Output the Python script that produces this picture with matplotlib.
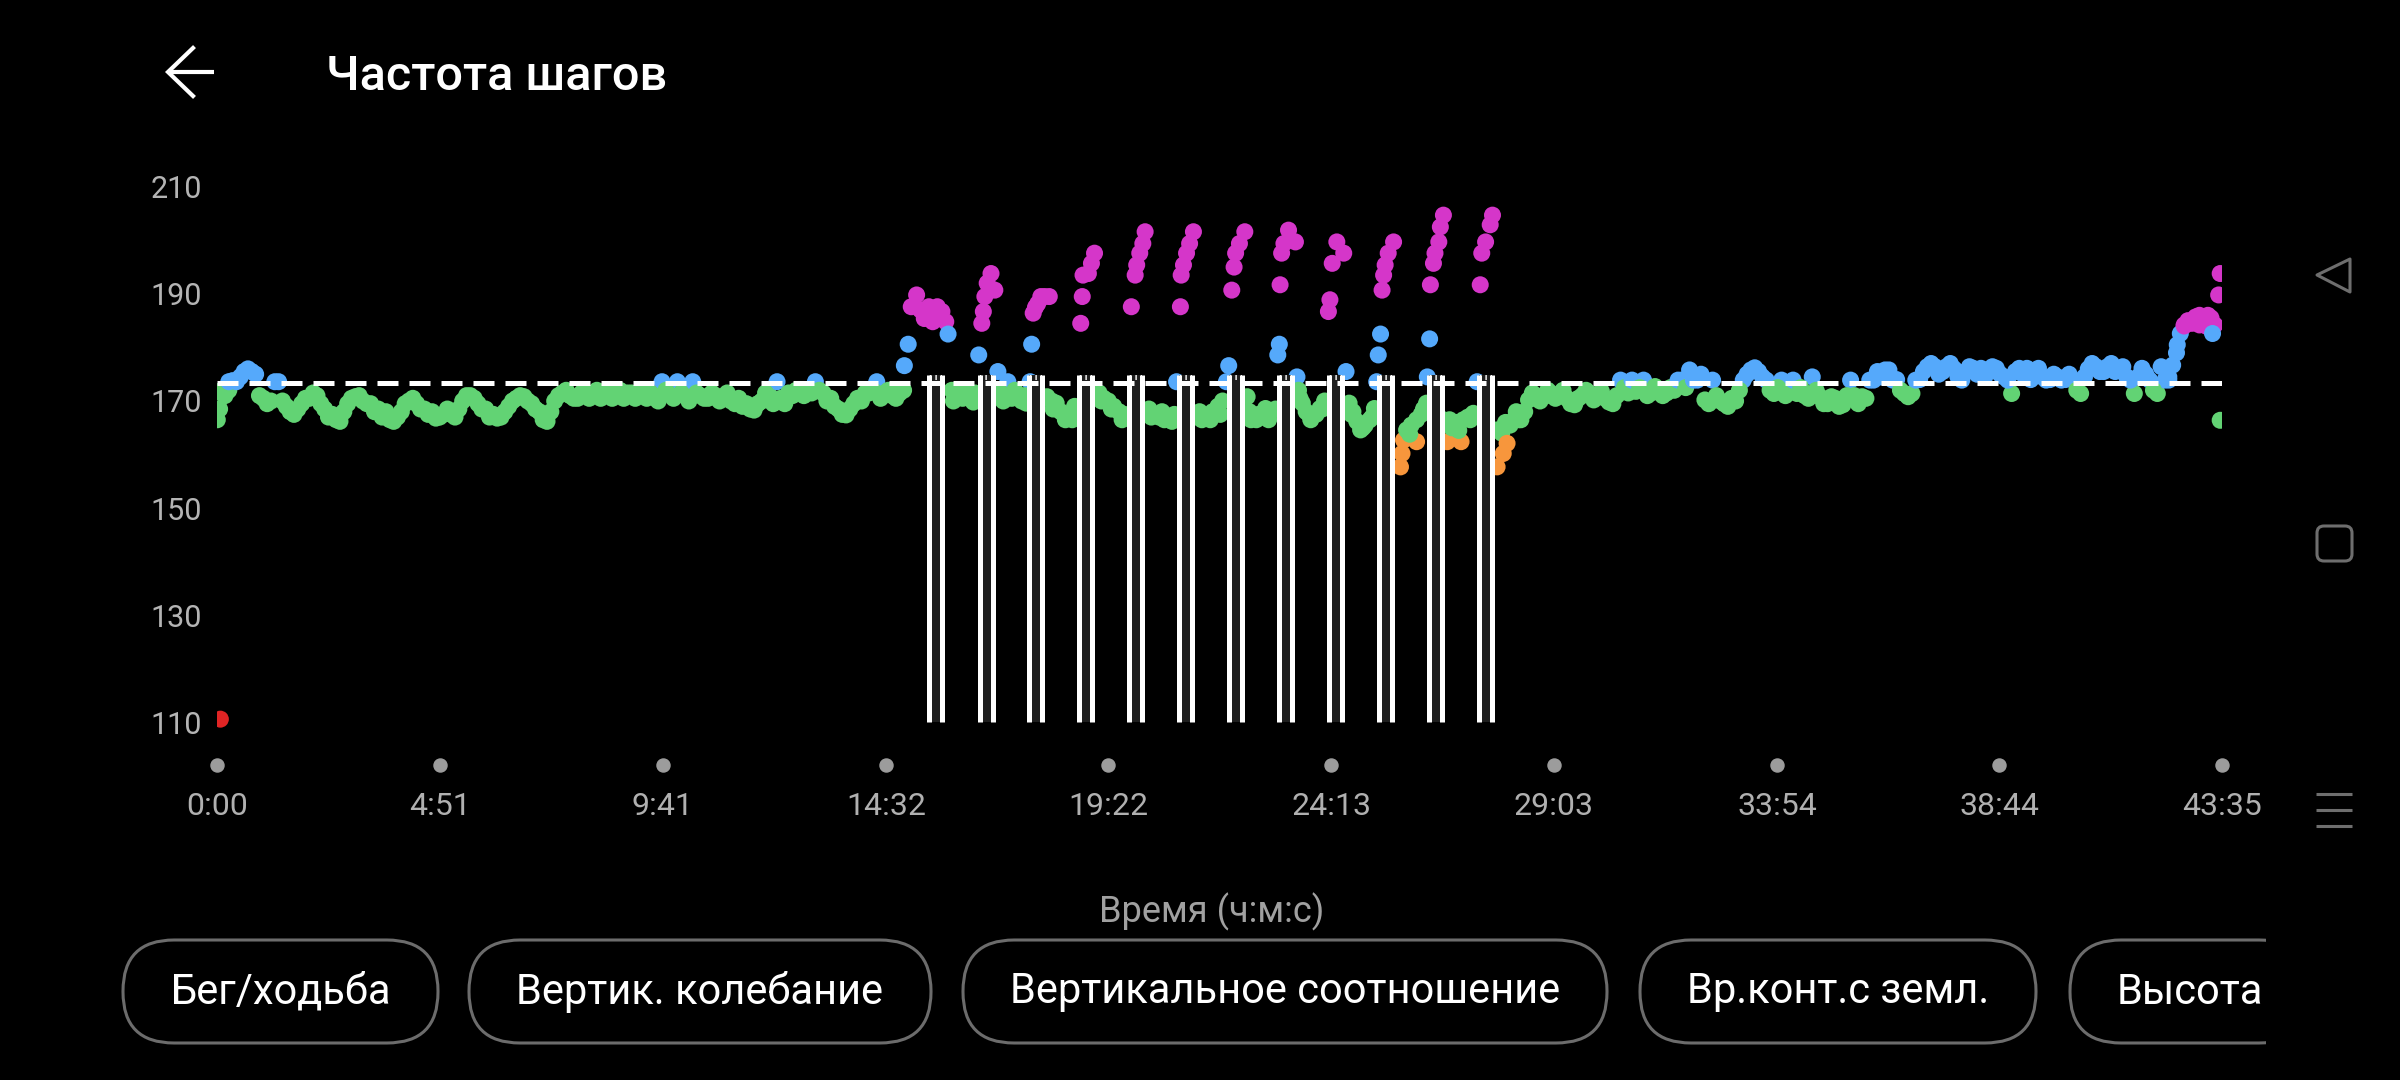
import numpy as np
import matplotlib
matplotlib.use("Agg")
import matplotlib.pyplot as plt
from matplotlib.patches import FancyBboxPatch, Polygon, Rectangle

plt.rcParams['font.family'] = ['Roboto', 'DejaVu Sans']

# --- data (cadence, steps/min; time in s) ---
total_time = 2615
avg_cadence = 173.3

# warm-up, samples every 10 s from 0 s, and the in-between samples
warm_v = [
    166.5, 171, 173.8, 174.5, 176, 175, 170.5, 170, 173.6, 169,
    167.5, 169.5, 170.5, 171, 168.5, 167.5, 166.2, 169.5, 170.8, 170,
    169.5, 168.5, 168, 166.2, 168, 170, 169.5, 168.5, 168, 167,
    168.5, 167, 170, 171, 169.5, 168.5, 167.5, 167, 169, 170.5,
    170.8, 169.5, 168, 166.2, 170, 171.5, 171, 170.5, 171.5, 171,
    170.5, 171.5, 171, 170.5, 171.5, 171, 170.5, 171, 173.6, 171.5,
    173.6, 171, 173.6, 171, 170.5, 171, 170.5, 170, 170.5, 169.5,
    168.3, 170, 171, 173.6, 169.5, 171, 171.5, 172, 173.6, 171.5,
    170.5, 168.5, 167.4, 169.5, 170, 171.5, 173.6, 171.5, 171, 171.5,
]
warm_b = [
    171.5, 172, 173.6, 175.5, 175.5, 171, 169.5, 173.6, 170, 168,
    168.5, 170.5, 171.5, 169.5, 167, 166.5, 168, 170.5, 171, 169.5,
    168, 167, 166.5, 167, 169.5, 170.5, 168.5, 167.5, 166.8, 167.5,
    167.5, 168.5, 171, 170.5, 168.5, 167, 166.8, 168, 170, 171,
    170, 168.5, 166.5, 168, 171, 172, 170.5, 171.5, 170.5, 172,
    171.5, 170.5, 172, 171.5, 170.5, 172, 171.5, 170, 172, 170.5,
    171.5, 170, 171.5, 170.5, 171.5, 170, 171.5, 169.5, 169, 168.5,
    169.5, 171.5, 169.5, 170.5, 171.5, 172, 171, 171.5, 172, 170,
    169, 167.5, 168.5, 170.5, 171.5, 172, 170.5, 172, 170.5, 172,
]
warm_t = np.arange(0, 900, 10)
warm_bt = np.arange(5, 900, 10)

# intervals section
int_t = [896, 901, 905, 912, 917, 922, 928, 933, 939, 945, 950, 953,
         958, 965, 972, 979, 986, 991,
         993, 997, 999, 1001, 1004, 1009, 1014, 1018, 1031,
         1022, 1028, 1036, 1043, 1049, 1055,
         1060, 1062, 1064, 1067, 1070, 1074, 1079, 1085,
         1082, 1088, 1094, 1100, 1106, 1113, 1118, 1121,
         1126, 1128, 1129, 1136, 1140, 1144,
         1150, 1156, 1162, 1169, 1176, 1183, 1190,
         1192, 1197, 1199, 1203, 1207, 1210,
         1215, 1221, 1228, 1235, 1242, 1248, 1251,
         1256, 1257, 1260, 1264, 1268, 1273,
         1278, 1284, 1291, 1298, 1305, 1311, 1316, 1319,
         1323, 1326, 1328, 1333, 1340,
         1343, 1348, 1355, 1361, 1367, 1374, 1380,
         1383, 1385, 1386, 1388, 1391, 1397, 1406, 1408,
         1410, 1415, 1420, 1426, 1433, 1438, 1444,
         1449, 1451, 1454, 1460, 1469, 1472,
         1476, 1481, 1486, 1491, 1497, 1503, 1509,
         1512, 1514, 1517, 1519, 1521, 1523, 1527, 1534,
         1543, 1545, 1547, 1551, 1557, 1564, 1564, 1570, 1577,
         1578, 1581, 1582, 1586, 1588, 1593, 1595, 1599,
         1599, 1604, 1610, 1616, 1622, 1625, 1631, 1638,
         1643, 1647, 1649, 1654, 1660, 1663,
         1669, 1669, 1675, 1677, 1682, 1686, 1691, 1697]
int_v = [176.6, 180.6, 187.6, 189.8, 187.0, 185.4, 187.6, 184.8, 187.6, 186.7, 184.8, 182.5,
         172, 171, 170.5, 171.5, 169.8, 170.5,
         178.6, 184.5, 186.7, 189.5, 192, 193.8, 190.7, 175.5, 173.6,
         171.5, 170.8, 170.5, 171, 170, 169.6,
         173.6, 180.6, 186.4, 187.5, 188.2, 189.5, 189.5, 189.5,
         170.8, 170, 169.6, 168, 166.5, 167.5, 169, 168,
         184.5, 189.5, 193.5, 193.8, 195.7, 197.6,
         171.5, 170.5, 170, 169, 168, 167.5, 167.1,
         187.6, 193.5, 195.4, 197.6, 199.4, 201.6,
         168.5, 167.5, 167, 166.5, 167, 167.5, 173.6,
         187.6, 193.5, 195.4, 197.6, 199.4, 201.6,
         167, 166.5, 167, 168, 169, 170, 173.6, 176.6,
         190.7, 195.0, 197.6, 199.4, 201.6,
         170.8, 166.5, 166.5, 167, 168.6, 168, 168.5,
         178.6, 180.6, 191.7, 197.6, 199.4, 201.9, 199.7, 174.5,
         172, 169.6, 168, 166.5, 167.5, 168.6, 170,
         186.7, 188.9, 195.7, 199.7, 197.6, 175.5,
         169.6, 168, 166.2, 164.6, 165.5, 166.5, 168.6,
         173.6, 178.6, 182.5, 190.7, 193.5, 195.4, 197.6, 199.7,
         157.7, 160.2, 162.7, 164.6, 165.5, 162.4, 166.5, 167.5, 169.6,
         174.5, 181.6, 191.7, 195.7, 197.6, 199.7, 202.5, 204.7,
         166.5, 162.4, 165, 166, 162.4, 166.5, 167, 167.7,
         173.6, 191.7, 197.6, 199.7, 202.9, 204.7,
         157.7, 164.6, 164, 160.2, 162.1, 165.5, 166.5, 166.5]

# extra samples inside the recoveries
rec_t = [960, 975, 988, 1025, 1040, 1052, 1090, 1104, 1115, 1153, 1166, 1180,
         1218, 1232, 1245, 1281, 1295, 1308, 1346, 1358, 1371, 1412, 1424, 1441,
         1479, 1494, 1506, 1555, 1573, 1607, 1619, 1634, 1680, 1694]
rec_v = [170, 172, 171.5, 170, 172, 171, 168.5, 167.5, 166.5, 170, 168.5, 166.5,
         167, 168, 166.2, 168, 166.5, 167.5, 168, 167.5, 166.5, 170.5, 167.5, 168.5,
         167.5, 165, 167, 163.8, 168.5, 166.5, 164.5, 166.5, 166, 168]

# cool-down, samples every 10 s from 1700 s, and the in-between samples
cool_v = [
    166.5, 170.2, 171, 170.8, 171.4, 171, 170.5, 169.3, 171, 171.4,
    171, 170.5, 169.5, 173.9, 171.5, 171.8, 173.9, 171.5, 172, 171.5,
    172, 173.9, 175.8, 173.9, 170.2, 173.9, 170, 169, 170, 173.9,
    175.8, 175.5, 173.9, 171.4, 173.9, 172, 171.4, 171, 174.5, 170.8,
    169.5, 170.5, 169.3, 173.9, 169.5, 170.5, 173.9, 174.5, 175.8, 174,
    171.4, 171.4, 174, 176.4, 176.4, 175.5, 177, 174.5, 175.5, 176.1,
    176.1, 175.5, 176.1, 174.5, 171.4, 176.1, 176.1, 175.5, 174.5, 174,
    174.5, 174, 173.9, 171.4, 176, 176.4, 175.5, 177, 176.1, 174.5,
    171.4, 176.1, 173.9, 171.4, 173.9, 176.7, 182.6, 185, 185.7, 184.8,
    185.5, 189.8,
]
cool_b = [
    168, 171.5, 170, 172, 170.5, 172, 169.5, 170.5, 172, 170.2,
    171.8, 169.8, 171, 172.5, 173.9, 172.5, 171, 172.7, 171, 172.5,
    173.9, 172.5, 173.9, 175, 169.5, 171, 169.5, 170.5, 172, 175,
    176.2, 174.5, 172, 172.5, 171, 173.9, 172.5, 170.5, 172, 169.5,
    170.8, 169, 171, 171, 170.8, 173.9, 175.5, 175.8, 173.9, 172,
    170.8, 173.9, 175.5, 177, 175, 176.4, 176, 173.9, 176.4, 175,
    174.5, 176.4, 175, 173.9, 175.5, 175, 174, 176.1, 173.9, 175,
    173.9, 175, 172, 174.5, 177, 175.5, 176.4, 175.5, 176.4, 173.9,
    174.5, 175, 172, 176.4, 174.5, 179, 184, 184.5, 186, 183.9,
    184.2,
]
cool_t = np.arange(1700, 2620, 10)
cool_bt = np.arange(1705, 2610, 10)

# a few extra samples at start and end
extra_t = [3, 6, 15, 4, 2545, 2556, 2565, 2585, 2596, 2602, 2612, 2612]
extra_v = [168.5, 172, 173.6, 110.6, 173.9, 180.5, 184.2, 184.2, 186, 182.6, 193.8, 166.4]

# fast-segment markers (white bars)
bar_left = [928, 995, 1058, 1124, 1189, 1254, 1319, 1385, 1450, 1515, 1580, 1646]
bar_width = 17
bar_bottom = 110
bar_top = 174.8

zone_edges = [120, 163.5, 173, 183.5]
zone_colors = ['#e02424', '#f7963c', '#62d374', '#55a9fb', '#d536c9']

xtick_pos = [0, 291, 581, 872, 1162, 1453, 1743, 2034, 2324, 2615]
xtick_labels = ['0:00', '4:51', '9:41', '14:32', '19:22', '24:13',
                '29:03', '33:54', '38:44', '43:35']
ytick_vals = [110, 130, 150, 170, 190, 210]

buttons = ['Бег/ходьба', 'Вертик. колебание', 'Вертикальное соотношение',
           'Вр.конт.с земл.', 'Высота']
btn_left = [123, 469, 963, 1640, 2070]
btn_right = [438, 931, 1607, 2036, 2310]

# --- figure ---
fig = plt.figure(figsize=(24, 10.8), dpi=100, facecolor='black')

ui = fig.add_axes([0, 0, 1, 1])
ui.set_xlim(0, 2400)
ui.set_ylim(1080, 0)
ui.axis('off')
ui.set_zorder(0)

ax = fig.add_axes([0.09054, 0.3113, 0.8355, 0.5257])
ax.set_zorder(1)
ax.set_facecolor('none')
for s in ax.spines.values():
    s.set_visible(False)

all_t = np.concatenate([warm_t, warm_bt, int_t, rec_t, cool_t, cool_bt, extra_t])
all_v = np.concatenate([warm_v, warm_b, int_v, rec_v, cool_v, cool_b, extra_v])
cols = np.array(zone_colors)[np.digitize(all_v, zone_edges)]
ax.scatter(all_t, all_v, s=150, c=cols, linewidths=0, zorder=2)

# bars
bl = np.array(bar_left)
ax.bar(bl + bar_width / 2, bar_top - bar_bottom, bottom=bar_bottom, width=bar_width,
       color='#1e1e1e', linewidth=0, zorder=3)
ax.vlines(np.concatenate([bl, bl + bar_width]), bar_bottom, bar_top,
          color='white', linewidth=3.6, zorder=3.5)
ax.bar(bl + bar_width / 2, 0.9, bottom=bar_top - 0.9, width=bar_width,
       facecolor='none', edgecolor='white', hatch='|||', linewidth=0, zorder=3.4)

ax.axhline(avg_cadence, color='white', linewidth=3.6, dashes=(4.2, 2.2), zorder=4)

ax.set_xlim(0, total_time)
ax.set_ylim(106, 212)
ax.set_yticks(ytick_vals)
ax.set_xticks(xtick_pos, xtick_labels)
ax.tick_params(axis='y', length=0, pad=11, labelsize=22, labelcolor='#b4b4b4')
ax.tick_params(axis='x', length=0, pad=35, labelsize=23, labelcolor='#b0b0b0')
ax.plot(xtick_pos, np.full(len(xtick_pos), 102.0), 'o', color='#9c9c9c', ms=9.4,
        clip_on=False, zorder=2)

fig.text(0.505, 0.1556, 'Время (ч:м:с)', color='#a0a0a0', fontsize=26,
         ha='center', va='center')

# header
ui.text(326, 90, 'Частота шагов', color='white', fontsize=35, fontweight='medium',
        ha='left', va='baseline')
ui.plot([168, 214], [72, 72], color='white', lw=3, solid_capstyle='butt')
ui.plot([193, 168, 193], [48, 72, 96], color='white', lw=3, solid_joinstyle='miter')

# buttons
clip = Rectangle((0, 0), 2266, 1080, transform=ui.transData)
for lab, x0, x1 in zip(buttons, btn_left, btn_right):
    pill = FancyBboxPatch((x0, 940), x1 - x0, 103,
                          boxstyle='round,pad=0,rounding_size=51',
                          facecolor='none', edgecolor='#6c6c6c', lw=2.2)
    ui.add_patch(pill)
    t = ui.text((x0 + x1) / 2, 992, lab, color='white', fontsize=30,
                ha='center', va='center')
    pill.set_clip_path(clip)
    t.set_clip_path(clip)

# navigation bar
nav = '#6e6e6e'
ui.add_patch(Polygon([(2317, 275), (2350, 259), (2350, 292)], closed=True,
                     fill=False, edgecolor=nav, lw=2.2, joinstyle='round'))
ui.add_patch(FancyBboxPatch((2317, 526), 35, 35, boxstyle='round,pad=0,rounding_size=7',
                            fill=False, edgecolor=nav, lw=2.2))
ui.hlines([794, 810, 826], 2316, 2352, color=nav, lw=2.2)

fig.savefig('out.png', dpi=100, facecolor='black')
